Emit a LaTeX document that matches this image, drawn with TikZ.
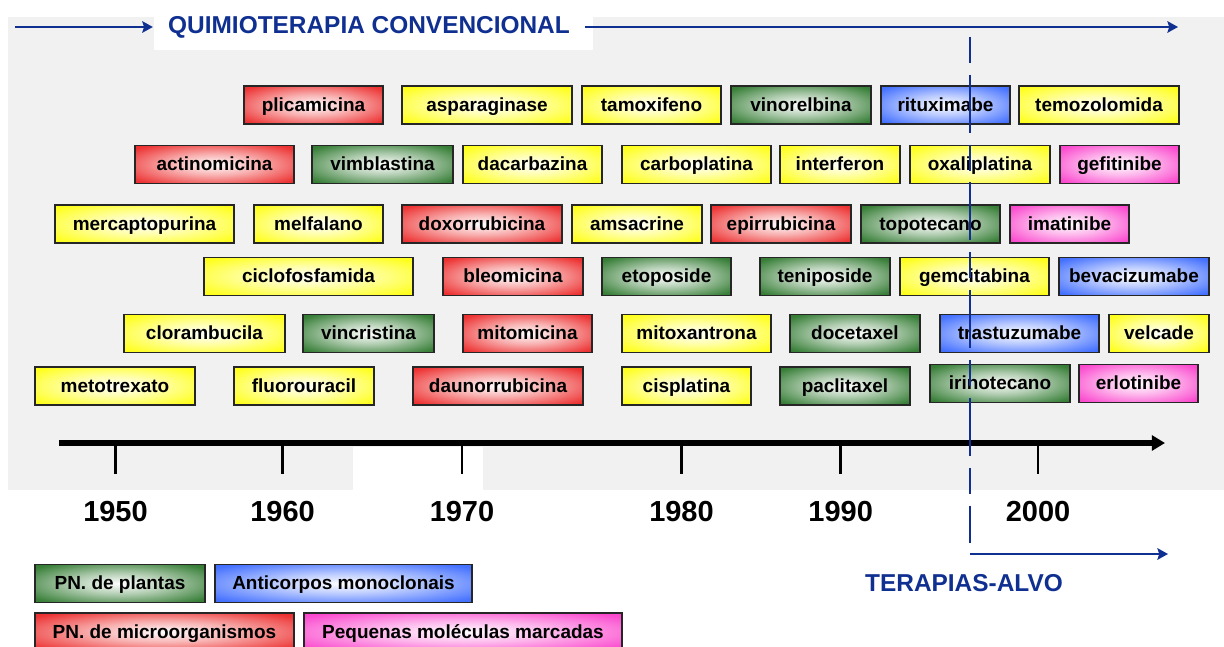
\documentclass[tikz,border=0pt]{standalone}
\usepackage{fontspec}
\setmainfont{Liberation Sans}
\usetikzlibrary{arrows.meta}

\definecolor{navy}{RGB}{16,48,145}
\definecolor{plantgreen}{RGB}{30,110,30}
\definecolor{microred}{RGB}{235,25,25}
\definecolor{mabblue}{RGB}{45,95,255}
\definecolor{molpink}{RGB}{250,50,200}
\definecolor{chemoyellow}{RGB}{255,255,0}
\colorlet{boxcol}{white}
% glow from a light centre to the class colour at the edges
\pgfdeclareradialshading[boxcol]{glow}{\pgfpoint{0bp}{0bp}}{color(0bp)=(white); color(14bp)=(boxcol!35!white); color(32bp)=(boxcol!88!white); color(45bp)=(boxcol); color(50bp)=(boxcol)}

\begin{document}
\begin{tikzpicture}[x = 0.02cm, y = -0.02cm,
        drug/.style = {draw = black!85, line width = 0.85pt, shade, shading = glow,
            inner sep = 0pt, minimum height = 0.76cm, text height = 9pt, text depth = 2pt,
            font = \fontsize{10.8}{13}\selectfont\bfseries},
        bw/.style = {minimum width = #1*0.02cm},
        chemo/.style = {drug, /utils/exec = {\colorlet{boxcol}{chemoyellow}}},
        plant/.style = {drug, /utils/exec = {\colorlet{boxcol}{plantgreen}}},
        micro/.style = {drug, /utils/exec = {\colorlet{boxcol}{microred}}},
        mab/.style = {drug, /utils/exec = {\colorlet{boxcol}{mabblue}}},
        smallmol/.style = {drug, /utils/exec = {\colorlet{boxcol}{molpink}}},
        year/.style = {font = \fontsize{16.5}{18}\selectfont\bfseries},
        era/.style = {font = \fontsize{13.9}{16}\selectfont\bfseries, text = navy},
        tickmark/.style = {line width = 1.6pt},
        bluearrow/.style = {navy, line width = 1.6pt, -{Stealth[length = 6pt, width = 6.5pt, inset = 1pt]}}
    ]
    \useasboundingbox (0, 0) rectangle (1224, 646);

    % background
    \fill [gray!11] (8, 17) rectangle (1224, 490);
    \fill [white] (353, 447) rectangle (483, 490);
    \fill [white] (154, 17) rectangle (593, 50);

    % conventional chemotherapy
    \node [era, inner xsep = 0.3cm] (title) at (369, 27) {QUIMIOTERAPIA CONVENCIONAL};
    \coordinate (topL) at (15, 27);
    \coordinate (topR) at (1178, 27);
    \draw [bluearrow] (topL) -- (title.west);
    \draw [bluearrow] (title.east) -- (topR);

    % row 1
    \node [micro, bw = 139] (plicamicina) at (313.5, 105) {plicamicina};
    \node [chemo, bw = 170] (asparaginase) at (487, 105) {asparaginase};
    \node [chemo, bw = 139] (tamoxifeno) at (651.5, 105) {tamoxifeno};
    \node [plant, bw = 140] (vinorelbina) at (801, 105) {vinorelbina};
    \node [mab, bw = 129] (rituximabe) at (945.5, 105) {rituximabe};
    \node [chemo, bw = 160] (temozolomida) at (1099, 105) {temozolomida};

    % row 2
    \node [micro, bw = 159] (actinomicina) at (214.5, 164.5) {actinomicina};
    \node [plant, bw = 141] (vimblastina) at (382.5, 164.5) {vimblastina};
    \node [chemo, bw = 139] (dacarbazina) at (532.5, 164.5) {dacarbazina};
    \node [chemo, bw = 149] (carboplatina) at (696.5, 164.5) {carboplatina};
    \node [chemo, bw = 120] (interferon) at (840, 164.5) {interferon};
    \node [chemo, bw = 140] (oxaliplatina) at (980, 164.5) {oxaliplatina};
    \node [smallmol, bw = 119] (gefitinibe) at (1119.5, 164.5) {gefitinibe};

    % row 3
    \node [chemo, bw = 179] (mercaptopurina) at (144.5, 224) {mercaptopurina};
    \node [chemo, bw = 129] (melfalano) at (318.5, 224) {melfalano};
    \node [micro, bw = 160] (doxorrubicina) at (482, 224) {doxorrubicina};
    \node [chemo, bw = 130] (amsacrine) at (637, 224) {amsacrine};
    \node [micro, bw = 140] (epirrubicina) at (781, 224) {epirrubicina};
    \node [plant, bw = 139] (topotecano) at (930.5, 224) {topotecano};
    \node [smallmol, bw = 119] (imatinibe) at (1069.5, 224) {imatinibe};

    % row 4
    \node [chemo, bw = 209] (ciclofosfamida) at (308.5, 276.5) {ciclofosfamida};
    \node [micro, bw = 140] (bleomicina) at (513, 276.5) {bleomicina};
    \node [plant, bw = 129] (etoposide) at (666.5, 276.5) {etoposide};
    \node [plant, bw = 130] (teniposide) at (825, 276.5) {teniposide};
    \node [chemo, bw = 149] (gemcitabina) at (974.5, 276.5) {gemcitabina};
    \node [mab, bw = 150] (bevacizumabe) at (1134, 276.5) {bevacizumabe};

    % row 5
    \node [chemo, bw = 161] (clorambucila) at (204.5, 333.5) {clorambucila};
    \node [plant, bw = 131] (vincristina) at (368.5, 333.5) {vincristina};
    \node [micro, bw = 129] (mitomicina) at (527.5, 333.5) {mitomicina};
    \node [chemo, bw = 149] (mitoxantrona) at (696.5, 333.5) {mitoxantrona};
    \node [plant, bw = 130] (docetaxel) at (855, 333.5) {docetaxel};
    \node [mab, bw = 159] (trastuzumabe) at (1019.5, 333.5) {trastuzumabe};
    \node [chemo, bw = 100] (velcade) at (1159, 333.5) {velcade};

    % row 6
    \node [chemo, bw = 160] (metotrexato) at (115, 386) {metotrexato};
    \node [chemo, bw = 140] (fluorouracil) at (304, 386) {fluorouracil};
    \node [micro, bw = 170] (daunorrubicina) at (498, 386) {daunorrubicina};
    \node [chemo, bw = 129] (cisplatina) at (686.5, 386) {cisplatina};
    \node [plant, bw = 130] (paclitaxel) at (845, 386) {paclitaxel};
    \node [plant, bw = 140] (irinotecano) at (1000, 383.5) {irinotecano};
    \node [smallmol, bw = 119] (erlotinibe) at (1138.5, 383.5) {erlotinibe};

    % time axis
    \coordinate (axL) at (59, 443);
    \coordinate (axR) at (1165, 443);
    \draw [line width = 3pt, -{Triangle[length = 7.5pt, width = 8.5pt]}] (axL) -- (axR);
    \foreach \x/\yr in {115.5/1950, 282.6/1960, 462/1970, 681.5/1980, 840.7/1990, 1038/2000}
    {
        \coordinate (t\yr) at (\x, 443);
        \draw [tickmark] (t\yr) -- ++(0, 31);
        \node [year] (y\yr) at (\x, 512) {\yr};
    }

    % targeted therapies
    \coordinate (splitTop) at (970, 37);
    \coordinate (splitBot) at (970, 543);
    \draw [navy, line width = 1.5pt, dash pattern = on 14.7pt off 6.8pt on 33pt off 6.8pt]
        (splitTop) -- (splitBot);
    \coordinate (alvoL) at (970, 554);
    \coordinate (alvoR) at (1168, 554);
    \draw [bluearrow] (alvoL) -- (alvoR);
    \node [era] (alvo) at (964, 583) {TERAPIAS-ALVO};

    % legend
    \node [plant, bw = 170] (legPlant) at (120, 583.5) {PN. de plantas};
    \node [mab, bw = 257] (legMab) at (343.5, 583.5) {Anticorpos monoclonais};
    \node [micro, bw = 259] (legMicro) at (164.5, 632) {PN. de microorganismos};
    \node [smallmol, bw = 318] (legMol) at (463, 632) {Pequenas moléculas marcadas};
\end{tikzpicture}
\end{document}
